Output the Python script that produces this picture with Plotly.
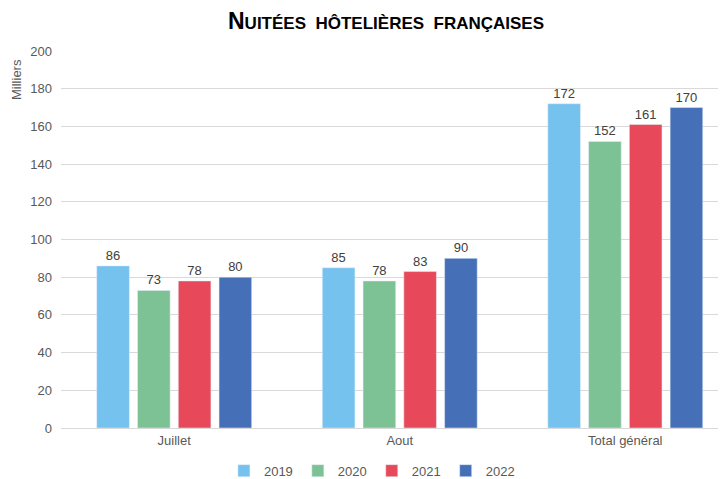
import plotly.graph_objects as go

categories = ["Juillet", "Aout", "Total général"]
years = ["2019", "2020", "2021", "2022"]
values_2019 = [86, 85, 172]
values_2020 = [73, 78, 152]
values_2021 = [78, 83, 161]
values_2022 = [80, 90, 170]
series = [values_2019, values_2020, values_2021, values_2022]
colors = ["#75C2EE", "#7DC295", "#E8495A", "#4570B8"]
y_ticks = [0, 20, 40, 60, 80, 100, 120, 140, 160, 180, 200]

fig = go.Figure()
for name, vals, col in zip(years, series, colors):
    fig.add_trace(go.Bar(
        x=categories, y=vals, name=name, marker_color=col,
        text=[str(v) for v in vals], textposition="outside",
        textfont=dict(size=13, color="#404040"), cliponaxis=False,
    ))

big, small = 23, 17
title = (f"<b><span style='font-size:{big}px'>N</span>UITÉES  HÔTELIÈRES  FRANÇAISES</b>")

# note: the page body adds an 8px offset, so figure coordinates are shifted by -8px
fig.update_layout(
    width=726, height=479,
    margin=dict(l=53, r=0, t=43, b=59, autoexpand=False),
    paper_bgcolor="white", plot_bgcolor="white",
    font=dict(family="Liberation Sans, Arial, sans-serif", color="#595959", size=13),
    title=dict(text=title, x=0.5207, xanchor="center", y=0.969, yanchor="middle",
               font=dict(size=small, color="#000000")),
    barmode="group", bargap=0.277, bargroupgap=0.2,
    showlegend=True,
    legend=dict(orientation="h", x=0.462, xanchor="center", yref="container",
                y=0.034, yanchor="middle",
                font=dict(size=13, color="#595959"), itemwidth=30,
                traceorder="normal"),
    xaxis=dict(range=[-0.502, 2.482], showline=True, linecolor="#D9D9D9", linewidth=1,
               ticks="", tickfont=dict(size=13, color="#595959")),
    yaxis=dict(range=[0, 200], tickvals=y_ticks, showgrid=True, gridcolor="#D9D9D9",
               zeroline=False, showline=False, ticks="", ticklabelstandoff=8,
               tickfont=dict(size=13, color="#595959")),
    annotations=[dict(text="Milliers", xref="paper", yref="paper", x=-0.0669, y=0.9257,
                      xanchor="center", yanchor="middle", textangle=-90, showarrow=False,
                      font=dict(size=13, color="#595959"))],
)

fig.write_html("out.html")
